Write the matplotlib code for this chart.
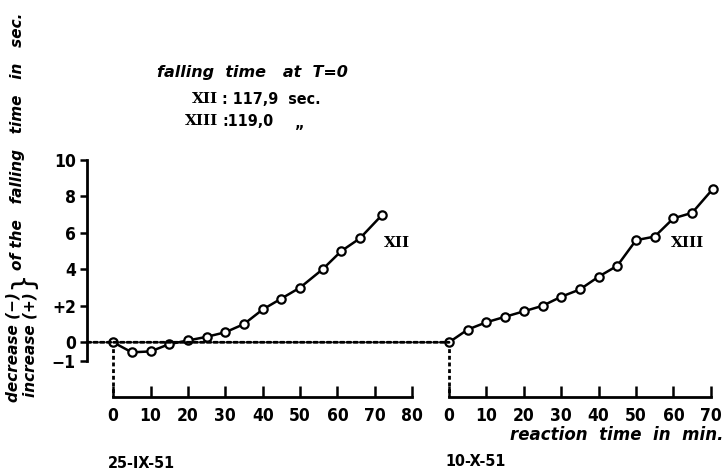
import matplotlib
matplotlib.use("Agg")
import matplotlib.pyplot as plt
from matplotlib.patches import ConnectionPatch

# ---- data ----
t_xii = [0, 5, 10, 15, 20, 25, 30, 35, 40, 45, 50, 56, 61, 66, 72]
v_xii = [0, -0.55, -0.5, -0.1, 0.1, 0.3, 0.55, 1.0, 1.8, 2.4, 3.0, 4.0, 5.0, 5.7, 7.0]
t_xiii = [0, 5, 10, 15, 20, 25, 30, 35, 40, 45, 50, 55, 60, 65, 70.5]
v_xiii = [0, 0.7, 1.1, 1.4, 1.7, 2.0, 2.5, 2.9, 3.6, 4.2, 5.6, 5.8, 6.8, 7.1, 8.4]
yticks = [-1, 0, 2, 4, 6, 8, 10]
ytick_labels = ["\u22121", "0", "+2", "4", "6", "8", "10"]
xticks_left = [0, 10, 20, 30, 40, 50, 60, 70, 80]
xticks_right = [0, 10, 20, 30, 40, 50, 60, 70]

W, H = 725, 474
fig = plt.figure(figsize=(W / 100, H / 100), dpi=100)

def frac(x0, y0, x1, y1):
    return [x0 / W, 1 - y1 / H, (x1 - x0) / W, (y1 - y0) / H]

ylo, yhi = -3.0, 10.3
ax1 = fig.add_axes(frac(87, 154.5, 419.7, 397))
ax2 = fig.add_axes(frac(445.3, 154.5, 718.3, 397))

tick_font = dict(family="DejaVu Sans", stretch="condensed", weight="bold", size=12.5)
lw_line = 1.8
mk = dict(marker="o", markersize=6, markerfacecolor="white",
          markeredgecolor="black", markeredgewidth=1.6)
dot = dict(color="black", linewidth=2.0, linestyle=(0, (1.4, 1.0)))

for ax, t, v, xl, xt in [(ax1, t_xii, v_xii, (-7, 82), xticks_left),
                         (ax2, t_xiii, v_xiii, (-1, 72), xticks_right)]:
    ax.set_xlim(*xl)
    ax.set_ylim(ylo, yhi)
    ax.patch.set_alpha(0)
    ax.plot([0, 0], [0, ylo], zorder=1, clip_on=False, **dot)
    ax.plot(t, v, color="black", linewidth=lw_line, zorder=3, clip_on=False, **mk)
    for s in ["top", "right"]:
        ax.spines[s].set_visible(False)
    ax.spines["bottom"].set_linewidth(2)
    ax.spines["bottom"].set_bounds(xt[0], xt[-1])
    ax.set_xticks(xt)
    ax.set_xticklabels([str(x) for x in xt], fontdict=tick_font)
    ax.tick_params(axis="x", direction="in", length=8, width=1.8, pad=7)

ax1.spines["left"].set_linewidth(2)
ax1.spines["left"].set_bounds(-1, 10)
ax1.set_yticks(yticks)
ax1.set_yticklabels(ytick_labels, fontdict=tick_font)
ax1.tick_params(axis="y", direction="out", length=5, width=1.8, pad=3)
ax2.spines["left"].set_visible(False)
ax2.set_yticks([])

# baseline from left axis to start of second run
con = ConnectionPatch(xyA=(-7, 0), coordsA=ax1.transData,
                      xyB=(0, 0), coordsB=ax2.transData, zorder=1, **dot)
fig.add_artist(con)

def ftext(x, y, s, **kw):
    fig.text(x / W, 1 - y / H, s, **kw)

ital = dict(family="DejaVu Sans", style="italic", weight="bold", size=11.5)
roman = dict(family="DejaVu Serif", weight="bold", size=11)
plain = dict(family="DejaVu Sans", stretch="condensed", weight="bold", size=11.5)

ftext(252, 73, "falling  time   at  T=0", ha="center", va="center", **ital)
ftext(218, 99, "XII", ha="right", va="center", **roman)
ftext(222, 99, ": 117,9  sec.", ha="left", va="center", **plain)
ftext(218, 121, "XIII", ha="right", va="center", **roman)
ftext(222, 121, ":119,0", ha="left", va="center", **plain)
ftext(300, 124, "\u201e", ha="center", va="center", **plain)

ftext(397, 243, "XII", ha="center", va="center", **roman)
ftext(688, 243, "XIII", ha="center", va="center", **roman)

ftext(723, 435, "reaction  time  in  min.", ha="right", va="center",
      family="DejaVu Sans", style="italic", weight="bold", size=12)
ftext(108, 463, "25-IX-51", ha="left", va="center", **plain)
ftext(445, 462, "10-X-51", ha="left", va="center", **plain)

# y label
ylab = dict(family="DejaVu Sans", style="italic", weight="bold", size=11)
ftext(13, 402, "decrease (\u2212)", ha="center", va="bottom", rotation=90, **ylab)
ftext(30, 397, "increase (+)", ha="center", va="bottom", rotation=90, **ylab)
ftext(22, 280, "}", ha="center", va="center", rotation=90,
      family="DejaVu Sans", size=21)
ftext(18, 270, "of the   falling   time   in   sec.", ha="center", va="bottom",
      rotation=90, **ylab)

fig.savefig("out.png", dpi=100)
